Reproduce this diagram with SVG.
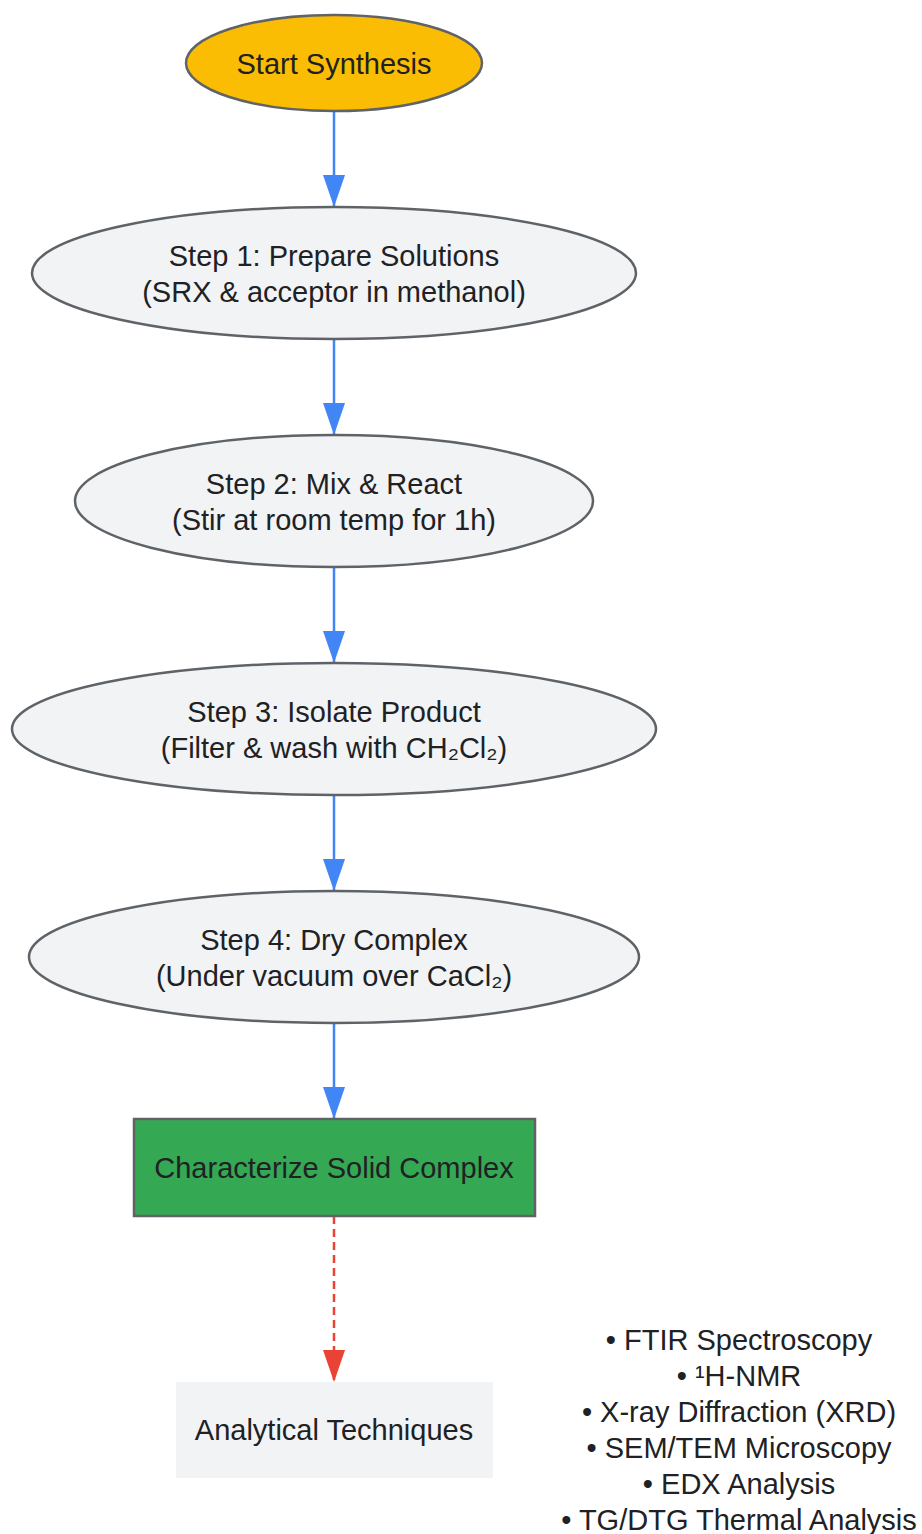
<svg xmlns="http://www.w3.org/2000/svg" width="922" height="1534" viewBox="0 0 922 1534">
<style>
text{font-family:"Liberation Sans",Arial,sans-serif;font-size:29px;fill:#202124;text-anchor:middle;dominant-baseline:central}
.el{fill:#f1f3f4;stroke:#5f6368;stroke-width:2.5}
.flow{stroke:#4285f4;stroke-width:2.5;fill:none}
.dash{stroke:#ea4335;stroke-width:2.5;fill:none;stroke-dasharray:8 5}
</style>
<defs>
<marker id="ab" viewBox="0 0 32 22" refX="31" refY="11" markerWidth="32" markerHeight="22" markerUnits="userSpaceOnUse" orient="auto"><path d="M0,0 L32,11 L0,22 Z" fill="#4285f4"/></marker>
<marker id="ar" viewBox="0 0 32 22" refX="31" refY="11" markerWidth="32" markerHeight="22" markerUnits="userSpaceOnUse" orient="auto"><path d="M0,0 L32,11 L0,22 Z" fill="#ea4335"/></marker>
</defs>
<g id="connectors">
<line class="flow" x1="334" y1="111" x2="334" y2="206" marker-end="url(#ab)"/>
<line class="flow" x1="334" y1="339" x2="334" y2="434" marker-end="url(#ab)"/>
<line class="flow" x1="334" y1="567" x2="334" y2="662" marker-end="url(#ab)"/>
<line class="flow" x1="334" y1="795" x2="334" y2="890" marker-end="url(#ab)"/>
<line class="flow" x1="334" y1="1023" x2="334" y2="1118" marker-end="url(#ab)"/>
<line class="dash" x1="334" y1="1216" x2="334" y2="1381" marker-end="url(#ar)"/>
</g>
<g id="start">
<ellipse cx="334" cy="63" rx="148" ry="48" fill="#fbbc04" stroke="#5f6368" stroke-width="2.5"/>
<text x="334" y="64">Start Synthesis</text>
</g>
<g id="step1">
<ellipse class="el" cx="334" cy="273" rx="302" ry="66"/>
<text x="334" y="256">Step 1: Prepare Solutions</text>
<text x="334" y="292">(SRX &amp; acceptor in methanol)</text>
</g>
<g id="step2">
<ellipse class="el" cx="334" cy="501" rx="259" ry="66"/>
<text x="334" y="484">Step 2: Mix &amp; React</text>
<text x="334" y="520">(Stir at room temp for 1h)</text>
</g>
<g id="step3">
<ellipse class="el" cx="334" cy="729" rx="322" ry="66"/>
<text x="334" y="712">Step 3: Isolate Product</text>
<text x="334" y="748">(Filter &amp; wash with CH₂Cl₂)</text>
</g>
<g id="step4">
<ellipse class="el" cx="334" cy="957" rx="305" ry="66"/>
<text x="334" y="940">Step 4: Dry Complex</text>
<text x="334" y="976">(Under vacuum over CaCl₂)</text>
</g>
<g id="characterize">
<rect x="134" y="1119" width="401" height="97" fill="#34a853" stroke="#5f6368" stroke-width="2.5"/>
<text x="334" y="1168">Characterize Solid Complex</text>
</g>
<g id="analytical">
<rect x="176" y="1382" width="317" height="96" fill="#f1f3f4"/>
<text x="334" y="1430">Analytical Techniques</text>
</g>
<g id="techniques">
<text x="739" y="1340">• FTIR Spectroscopy</text>
<text x="739" y="1376">• ¹H-NMR</text>
<text x="739" y="1412">• X-ray Diffraction (XRD)</text>
<text x="739" y="1448">• SEM/TEM Microscopy</text>
<text x="739" y="1484">• EDX Analysis</text>
<text x="739" y="1520">• TG/DTG Thermal Analysis</text>
</g>
</svg>
